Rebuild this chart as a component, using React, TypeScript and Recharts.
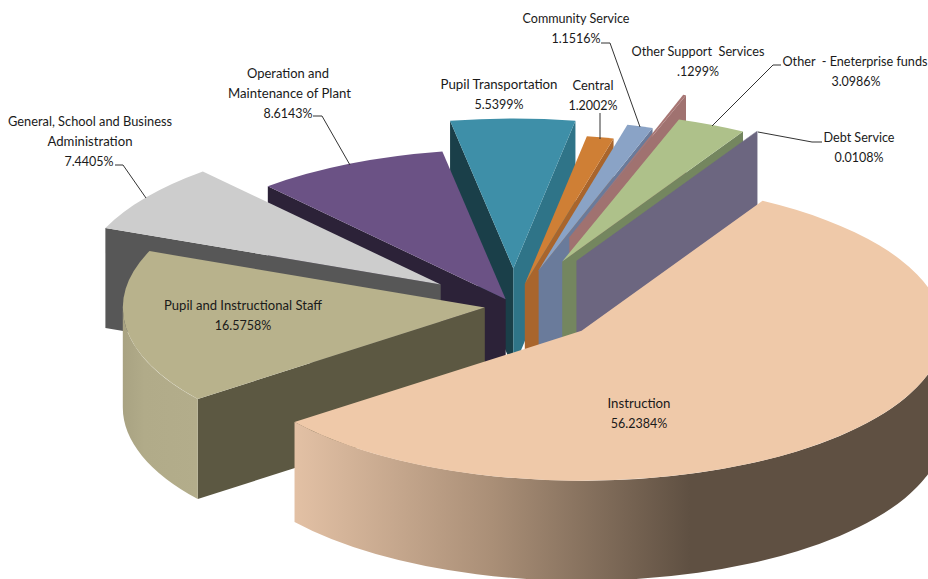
import React from "react";
import { PieChart, Pie } from "recharts";

const WIDTH = 928;
const HEIGHT = 579;

const categories = [
  "Instruction",
  "Pupil and Instructional Staff",
  "General, School and Business Administration",
  "Operation and Maintenance of Plant",
  "Pupil Transportation",
  "Central",
  "Community Service",
  "Other Support  Services",
  "Other  - Eneterprise funds",
  "Debt Service",
];
const shares = [56.2384, 16.5758, 7.4405, 8.6143, 5.5399, 1.2002, 1.1516, 0.1299, 3.0986, 0.0108];
const shareLabels = ["56.2384%", "16.5758%", "7.4405%", "8.6143%", "5.5399%", "1.2002%", "1.1516%", ".1299%", "3.0986%", "0.0108%"];

const explode = [0.25, 0.08, 0.247, 0.05, 0.25, 0.15, 0.248, 0.484, 0.326, 0.348];
const topColors = ["#efc9a9", "#b8b28c", "#cdcdcd", "#6b5285", "#3e8fa8", "#cf7f35", "#8aa3c6", "#a87674", "#aec18a", "#6c6680"];
const startWallColors = ["none", "#5c5842", "#575757", "#2c2238", "#1a3f49", "none", "none", "none", "none", "none"];
const endWallColors = ["none", "none", "none", "none", "#2f7488", "#a9652c", "#6a7b9b", "#a07270", "#74865f", "#6c6680"];

// back-to-front painting order of the slices
const drawOrder = [4, 3, 2, 1, 5, 6, 7, 8, 9, 0];

const labelLines: string[][] = [
  ["Instruction"],
  ["Pupil and Instructional Staff"],
  ["General, School and Business", "Administration"],
  ["Operation and", "Maintenance of Plant"],
  ["Pupil Transportation"],
  ["Central"],
  ["Community Service"],
  ["Other Support  Services"],
  ["Other  - Eneterprise funds"],
  ["Debt Service"],
];
const labelWidths: number[][] = [
  [63], [158], [164, 85], [82, 123], [117], [41], [107], [133], [145], [71],
];
const labelAnchor: [number, number][] = [
  [639, 405], [243, 307], [90, 123], [288, 75], [499, 86],
  [593, 87], [576, 20], [698, 53], [855, 63], [859, 139],
];
const valueAnchorX = [639, 243, 89, 288, 499, 593, 576, 698, 856, 859];
const leaders: string[] = [
  "", "",
  "115,165 123,165 146,198",
  "313,116 322,116 350,165",
  "",
  "600,113 600,139",
  "601,43 610,43 640,127",
  "",
  "781,65 773,65 712,126",
  "822,142 812,142 758,132",
];

const CX = 513.5;
const CY = 306;
const RX = 362;
const RY = 150;
const DEPTH = 100;
const rad = Math.PI / 180;

const data = categories.map((name, i) => ({ name, value: shares[i] }));

function Slice(props: any, layer: number) {
  const { cx, cy, outerRadius, startAngle, endAngle, index, midAngle } = props;
  if (index !== layer) return <g />;
  const ratio = RY / RX;
  const mid = midAngle ?? (startAngle + endAngle) / 2;
  const ax = cx + explode[index] * outerRadius * Math.cos(mid * rad);
  const ay = cy - explode[index] * outerRadius * ratio * Math.sin(mid * rad);
  const rx = outerRadius;
  const ry = outerRadius * ratio;
  const pt = (deg: number): [number, number] => [ax + rx * Math.cos(deg * rad), ay - ry * Math.sin(deg * rad)];
  const [sx, sy] = pt(startAngle);
  const [ex, ey] = pt(endAngle);
  const large = Math.abs(startAngle - endAngle) > 180 ? 1 : 0;
  const top = `M${ax},${ay} L${sx},${sy} A${rx},${ry} 0 ${large} 1 ${ex},${ey} Z`;
  const wall = (x: number, y: number) => `M${ax},${ay} L${x},${y} L${x},${y + DEPTH} L${ax},${ay + DEPTH} Z`;

  const hi = Math.min(startAngle, 0);
  const lo = Math.max(endAngle, -180);
  let curved: string | null = null;
  if (hi > lo) {
    const [hx, hy] = pt(hi);
    const [lx, ly] = pt(lo);
    curved = `M${hx},${hy} A${rx},${ry} 0 0 1 ${lx},${ly} L${lx},${ly + DEPTH} A${rx},${ry} 0 0 0 ${hx},${hy + DEPTH} Z`;
  }
  return (
    <g>
      <defs>
        <linearGradient id="rimInstruction" gradientUnits="userSpaceOnUse" x1="293" y1="0" x2="690" y2="0">
          <stop offset="0" stopColor="#e3c1a5" />
          <stop offset="0.5" stopColor="#aa8f77" />
          <stop offset="1" stopColor="#5f5042" />
        </linearGradient>
        <linearGradient id="rimStaff" gradientUnits="userSpaceOnUse" x1="122" y1="0" x2="197" y2="0">
          <stop offset="0" stopColor="#a8a282" />
          <stop offset="0.3" stopColor="#b1ab89" />
          <stop offset="1" stopColor="#b3ad8b" />
        </linearGradient>
      </defs>
      {startWallColors[index] !== "none" && <path d={wall(sx, sy)} fill={startWallColors[index]} />}
      {endWallColors[index] !== "none" && <path d={wall(ex, ey)} fill={endWallColors[index]} />}
      {curved && <path d={curved} fill={index === 0 ? "url(#rimInstruction)" : "url(#rimStaff)"} />}
      <path d={top} fill={topColors[index]} />
    </g>
  );
}

function SliceLabel(props: any) {
  const { index } = props;
  const [x, y] = labelAnchor[index];
  const lines = labelLines[index];
  const style = { fontFamily: "Lato, 'Noto Sans', sans-serif", fontSize: 12.5, fill: "#1a1a1a" };
  return (
    <g>
      {leaders[index] && <polyline points={leaders[index]} fill="none" stroke="#333" strokeWidth={1} />}
      {lines.map((t, i) => (
        <text
          key={i}
          x={x + (index === 3 && i === 1 ? 1.5 : 0)}
          y={y + i * 20}
          textAnchor="middle"
          dominantBaseline="middle"
          textLength={labelWidths[index][i]}
          lengthAdjust="spacingAndGlyphs"
          style={{ ...style, whiteSpace: "pre" }}
        >
          {t}
        </text>
      ))}
      <text x={valueAnchorX[index]} y={y + lines.length * 20} textAnchor="middle" dominantBaseline="middle" style={style}>
        {shareLabels[index]}
      </text>
    </g>
  );
}

export default function App() {
  return (
    <div style={{ position: "absolute", left: 0, top: 0, width: WIDTH, height: HEIGHT, background: "#fff", overflow: "hidden" }}>
      <PieChart width={WIDTH} height={HEIGHT} margin={{ top: 0, right: 0, bottom: 0, left: 0 }}>
        {drawOrder.map((layer, n) => (
          <Pie
            key={layer}
            data={data}
            dataKey="value"
            nameKey="name"
            cx={CX}
            cy={CY}
            innerRadius={0}
            outerRadius={RX}
            startAngle={60}
            endAngle={-300}
            stroke="none"
            isAnimationActive={false}
            shape={(p: any) => Slice(p, layer)}
            label={n === drawOrder.length - 1 ? SliceLabel : false}
            labelLine={false}
          />
        ))}
      </PieChart>
    </div>
  );
}
